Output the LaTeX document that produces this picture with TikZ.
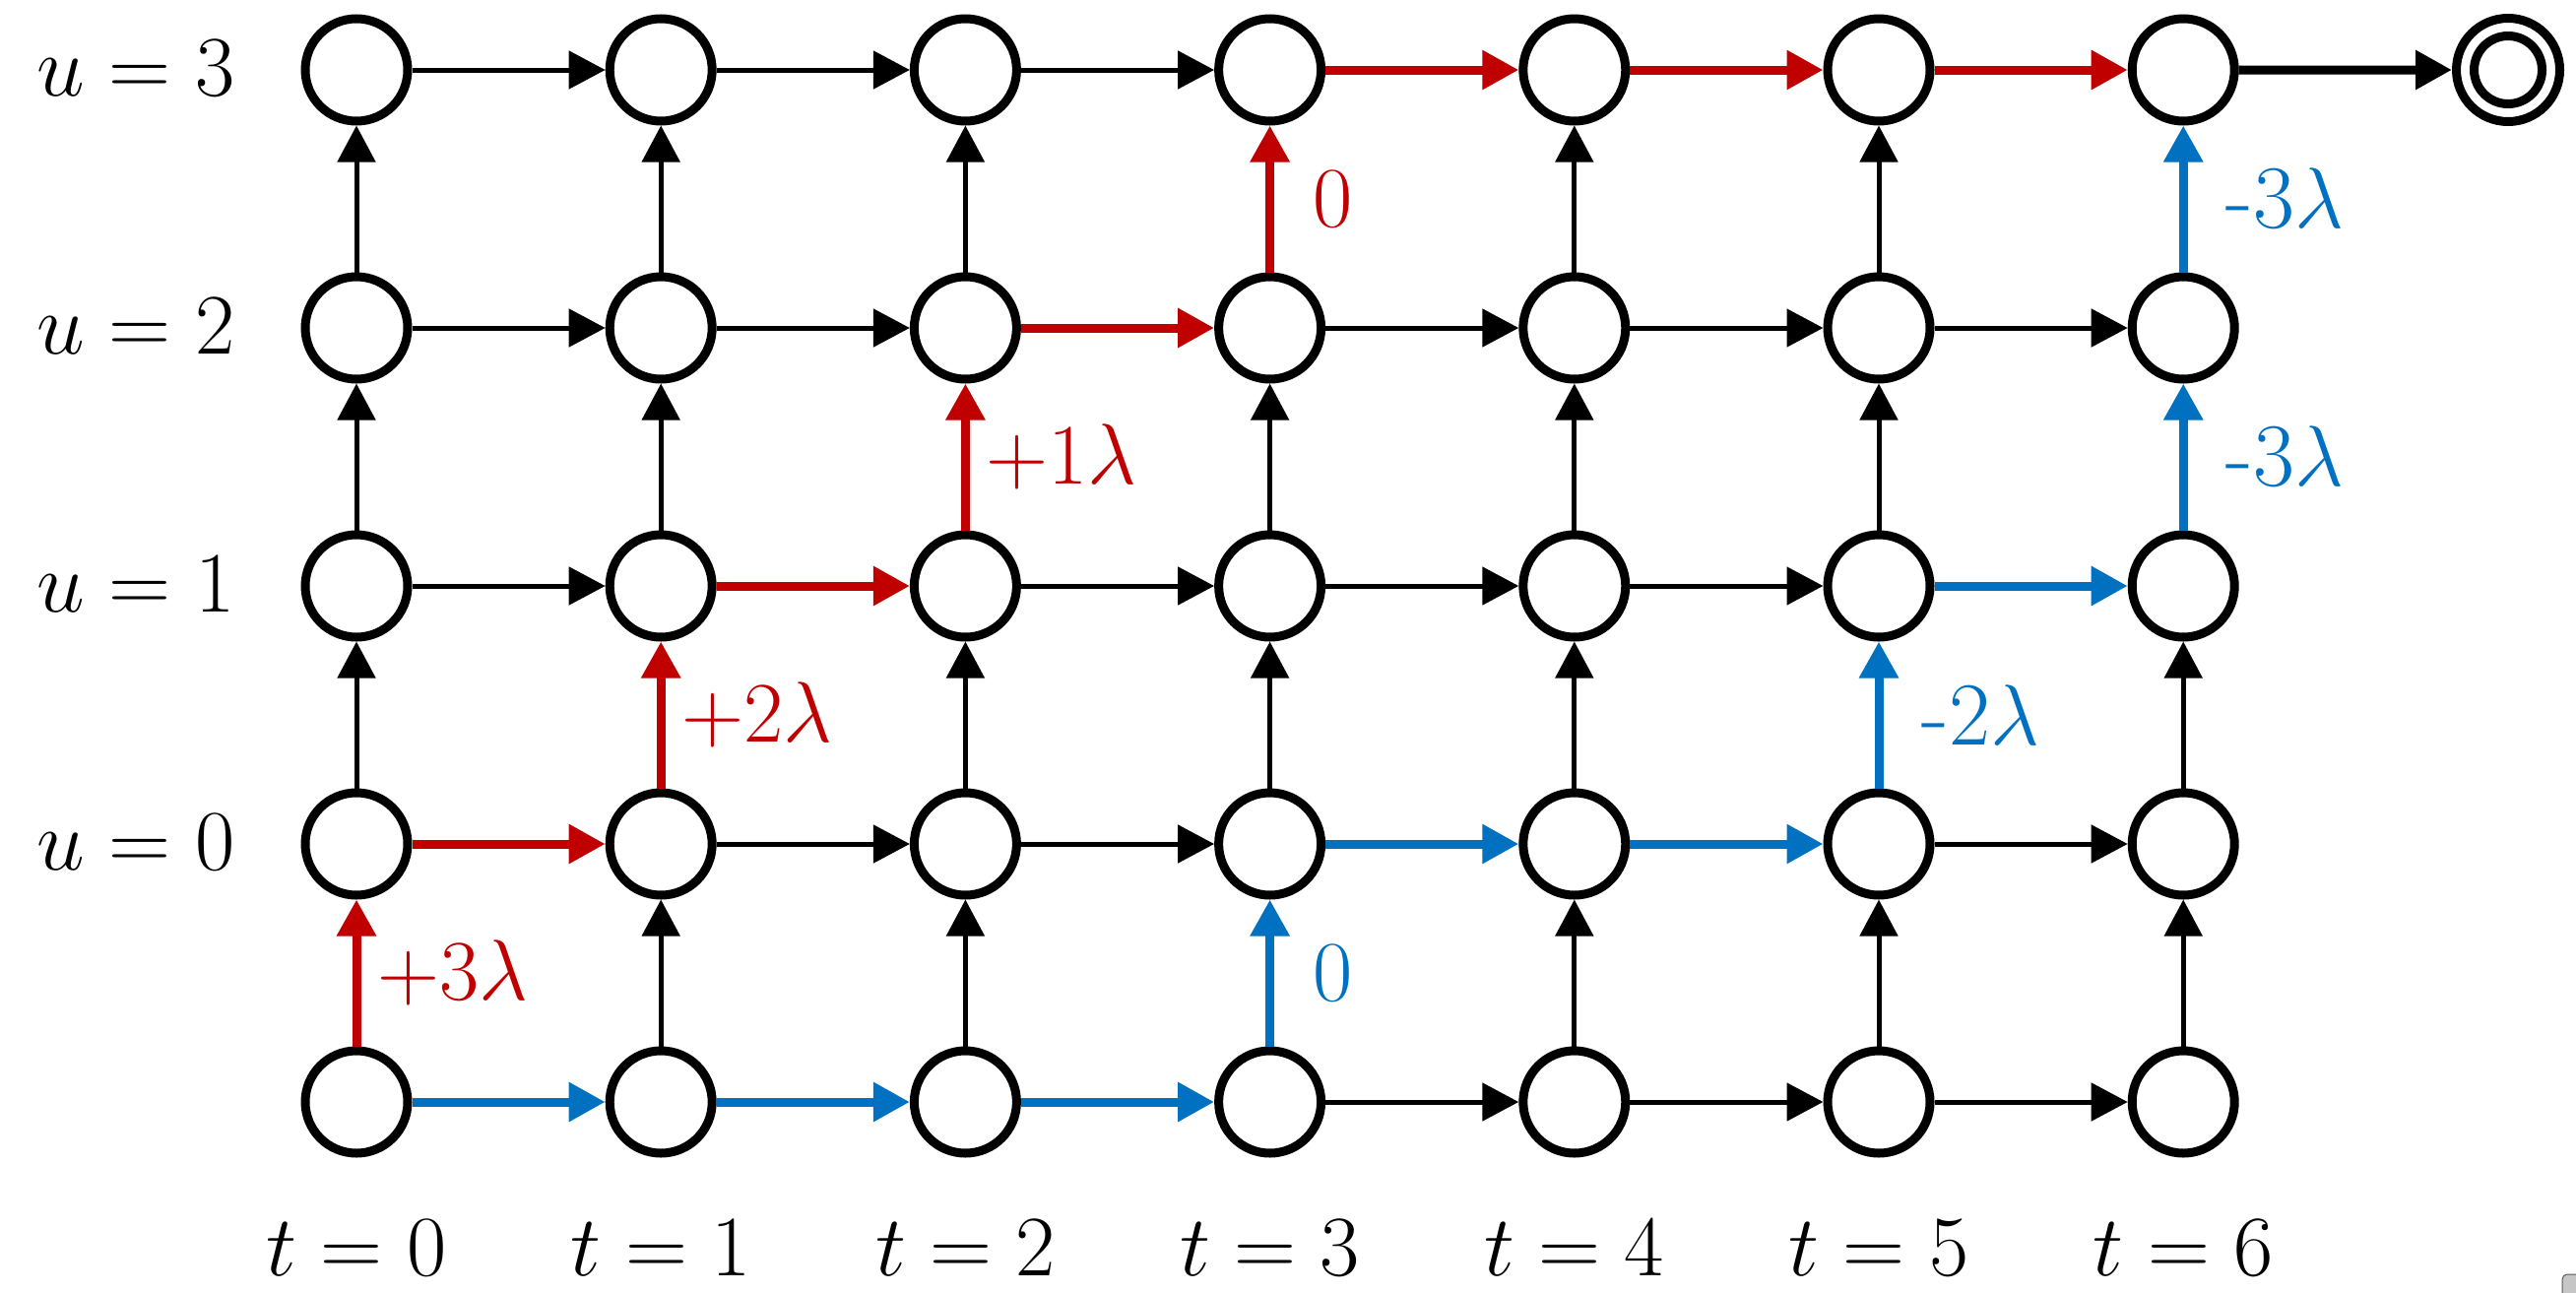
\documentclass[tikz,border=0pt]{standalone}
\usetikzlibrary{arrows.meta}
\definecolor{pathred}{HTML}{C00000}
\definecolor{pathblue}{HTML}{0070C0}
\begin{document}
\begin{tikzpicture}[
  state/.style={circle,draw,line width=0.09cm,minimum size=1.04cm,inner sep=0pt},
  edge/.style={-{Triangle[length=0.37cm,width=0.38cm]},line width=0.05cm},
  redge/.style={edge,line width=0.09cm,draw=pathred},
  bedge/.style={edge,line width=0.09cm,draw=pathblue},
  kedge/.style={edge,line width=0.09cm},
  big/.style={font=\fontsize{26}{31}\selectfont},
  lab/.style={big,midway,anchor=west,inner sep=0pt,xshift=0.17cm},
  rlab/.style={lab,text=pathred},
  blab/.style={lab,text=pathblue},
  wide/.style={xshift=0.22cm}
]
\useasboundingbox (0,0) rectangle (26.16,13.12);
% grid nodes: n<t><row>, row 0 = bottom, row 1..4 = u=0..3
\foreach \i in {0,...,6}
  \foreach \j in {0,...,4}
    \node[state] (n\i\j) at ({3.62+3.092*\i},{1.93+2.62*\j}) {};
\node[state,minimum size=1.05cm] (fin) at (25.47,12.41) {};
\draw[line width=0.09cm] (fin.center) circle (0.345cm);
% black edges
\foreach \a/\b in {04/14,14/24,24/34,03/13,13/23,33/43,43/53,53/63,02/12,22/32,32/42,42/52,11/21,21/31,51/61,30/40,40/50,50/60,
                   01/02,02/03,03/04,10/11,12/13,13/14,20/21,21/22,23/24,31/32,32/33,40/41,41/42,42/43,43/44,50/51,52/53,53/54,60/61,61/62}
  \draw[edge] (n\a) -- (n\b);
% red path
\draw[redge] (n00) -- (n01) node[rlab] (r1) {$+3\lambda$};
\draw[redge] (n01) -- (n11);
\draw[redge] (n11) -- (n12) node[rlab] (r2) {$+2\lambda$};
\draw[redge] (n12) -- (n22);
\draw[redge] (n22) -- (n23) node[rlab] (r3) {$+1\lambda$};
\draw[redge] (n23) -- (n33);
\draw[redge] (n33) -- (n34) node[rlab,wide] (r4) {$0$};
\draw[redge] (n34) -- (n44);
\draw[redge] (n44) -- (n54);
\draw[redge] (n54) -- (n64);
% blue path
\draw[bedge] (n00) -- (n10);
\draw[bedge] (n10) -- (n20);
\draw[bedge] (n20) -- (n30);
\draw[bedge] (n30) -- (n31) node[blab,wide] (b1) {$0$};
\draw[bedge] (n31) -- (n41);
\draw[bedge] (n41) -- (n51);
\draw[bedge] (n51) -- (n52) node[blab,wide] (b2) {-2$\lambda$};
\draw[bedge] (n52) -- (n62);
\draw[bedge] (n62) -- (n63) node[blab,wide] (b3) {-3$\lambda$};
\draw[bedge] (n63) -- (n64) node[blab,wide] (b4) {-3$\lambda$};
% final
\draw[kedge] (n64) -- (fin);
% row labels
\foreach \j/\u in {1/0,2/1,3/2,4/3}
  \node[big,anchor=base east,inner sep=0pt] (lu\u) at (2.39,{1.93+2.62*\j-0.26}) {$u = \u$};
% column labels
\foreach \i in {0,...,6}
  \node[big,anchor=base,inner sep=0pt] (lt\i) at ({3.62+3.092*\i},0.17) {$t = \i$};
% corner artifact
\draw[draw=gray!70!black,fill=gray!45,rounded corners=0.05cm,line width=0.01cm] (26.02,-0.4) rectangle (26.6,0.18);
\end{tikzpicture}
\end{document}
